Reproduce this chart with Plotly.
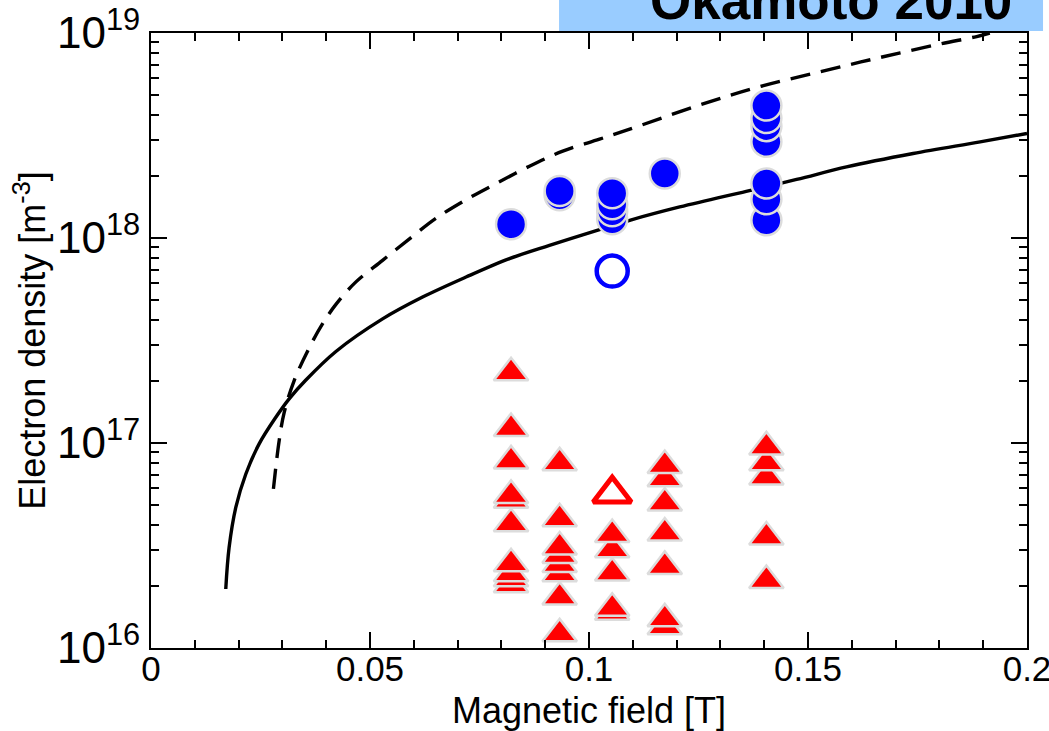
import plotly.graph_objects as go

# ---- data ----
solid_B = [0.01707, 0.01783, 0.01936, 0.02165, 0.02469, 0.0285, 0.03154, 0.03536, 0.04222,
           0.05287, 0.06201, 0.07193, 0.08183, 0.09097, 0.1024, 0.1093, 0.1207, 0.1359,
           0.1474, 0.1588, 0.174, 0.1893, 0.2]
solid_n = [1.94e16, 3.09e16, 4.85e16, 7.06e16, 9.9e16, 1.335e17, 1.642e17, 2.029e17, 2.796e17,
           4.03e17, 5.15e17, 6.45e17, 7.93e17, 9.21e17, 1.099e18, 1.22e18, 1.417e18, 1.69e18,
           1.93e18, 2.223e18, 2.584e18, 2.944e18, 3.236e18]

dashed_B = [0.02795, 0.02926, 0.0304, 0.03269, 0.03611, 0.03915, 0.04222, 0.04679, 0.05287,
            0.05973, 0.06507, 0.07193, 0.07879, 0.0864, 0.09401, 0.1024, 0.1093, 0.1245,
            0.1382, 0.1527, 0.1664, 0.1801, 0.1885, 0.1915]
dashed_n = [5.97e16, 1.027e17, 1.408e17, 2.017e17, 2.908e17, 3.81e17, 4.745e17, 6.11e17, 7.78e17,
            1.019e18, 1.248e18, 1.537e18, 1.844e18, 2.24e18, 2.652e18, 3.035e18, 3.396e18,
            4.4e18, 5.416e18, 6.47e18, 7.59e18, 8.84e18, 9.61e18, 1.0e19]

circle_B = [0.0822, 0.0933, 0.0933, 0.1053, 0.1053, 0.1053, 0.1053, 0.1173,
            0.1405, 0.1405, 0.1405, 0.1405, 0.1405, 0.1405, 0.1405]
circle_n = [1.167e18, 1.617e18, 1.697e18, 1.234e18, 1.35e18, 1.461e18, 1.654e18, 2.064e18,
            1.22e18, 1.545e18, 1.844e18, 2.944e18, 3.513e18, 3.844e18, 4.424e18]

open_circle_B = [0.1053]
open_circle_n = [6.9e17]

tri_B = ([0.0822] * 10 + [0.0933] * 8 + [0.1053] * 5 + [0.1173] * 7 + [0.1405] * 5)
tri_n = [2.033e16, 2.176e16, 2.30e16, 2.575e16, 4.04e16, 5.25e16, 5.55e16, 8.18e16, 1.176e17, 2.2e17,
         1.172e16, 1.771e16, 2.30e16, 2.555e16, 2.83e16, 3.11e16, 4.27e16, 8.0e16,
         1.496e16, 1.564e16, 2.32e16, 3.015e16, 3.58e16,
         1.268e16, 1.387e16, 2.50e16, 3.64e16, 5.10e16, 6.70e16, 7.76e16,
         2.135e16, 3.48e16, 6.83e16, 8.0e16, 9.57e16]

open_tri_B = [0.1053]
open_tri_n = [5.66e16]

x_ticks = [0, 0.05, 0.1, 0.15, 0.2]
x_ticktext = ["0", "0.05", "0.1", "0.15", "0.2"]
y_ticks = [1e16, 1e17, 1e18, 1e19]
y_ticktext = ["10<sup>16</sup>", "10<sup>17</sup>", "10<sup>18</sup>", "10<sup>19</sup>"]

title_text = "Okamoto 2010"

FONT = "Liberation Sans, Arial, Helvetica, sans-serif"
GRAY = "#dcdcdc"

fig = go.Figure()
fig.add_trace(go.Scatter(x=solid_B, y=solid_n, mode="lines",
                         line=dict(color="black", width=3.4, shape="spline", smoothing=1.0),
                         hoverinfo="skip"))
fig.add_trace(go.Scatter(x=dashed_B, y=dashed_n, mode="lines",
                         line=dict(color="black", width=3.4, dash="20px,11px", shape="spline", smoothing=1.0),
                         hoverinfo="skip"))
fig.add_trace(go.Scatter(x=circle_B, y=circle_n, mode="markers",
                         marker=dict(symbol="circle", size=30, color="#0000ff", line=dict(color=GRAY, width=2.5))))
fig.add_trace(go.Scatter(x=open_circle_B, y=open_circle_n, mode="markers",
                         marker=dict(symbol="circle-open", size=31, color="#0000ff", line=dict(color="#0000ff", width=4.5))))
fig.add_trace(go.Scatter(x=tri_B, y=tri_n, mode="markers",
                         marker=dict(symbol="triangle-up", size=30, color="#ff0000", line=dict(color=GRAY, width=2.5))))
fig.add_trace(go.Scatter(x=open_tri_B, y=open_tri_n, mode="markers",
                         marker=dict(symbol="triangle-up-open", size=33, color="#ff0000", line=dict(color="#ff0000", width=5))))

axis_common = dict(showline=True, linecolor="black", linewidth=2, mirror="ticks", ticks="inside",
                   tickcolor="black", tickwidth=2, ticklen=16, showgrid=False, zeroline=False,
                   automargin=False, ticklabeloverflow="allow")

fig.update_layout(
    width=1049, height=731,
    margin=dict(l=151, r=22, t=33, b=83),
    paper_bgcolor="white", plot_bgcolor="white",
    showlegend=False,
    font=dict(family=FONT, color="black"),
    xaxis=dict(range=[0, 0.2], tickvals=x_ticks, ticktext=x_ticktext,
               tickfont=dict(size=35, family=FONT), ticklabelstandoff=-11,
               title=dict(text="Magnetic field [T]", font=dict(size=36, family=FONT), standoff=15),
               minor=dict(ticks="inside", ticklen=8, tickwidth=2, tickcolor="black", dtick=0.01, showgrid=False),
               **axis_common),
    yaxis=dict(type="log", range=[16, 19], tickvals=y_ticks, ticktext=y_ticktext,
               tickfont=dict(size=44, family=FONT),
               title=dict(text="Electron density [m<sup>-3</sup>]", font=dict(size=36, family=FONT), standoff=0),
               minor=dict(ticks="inside", ticklen=8, tickwidth=2, tickcolor="black", dtick="D1", showgrid=False),
               **axis_common),
)

fig.add_shape(type="rect", xref="paper", yref="paper", x0=0.4658, x1=1.0183, y0=1.0033, y1=1.06,
              fillcolor="#99ccff", line=dict(width=0), layer="above")
fig.add_annotation(text="<b>" + title_text + "</b>", xref="paper", yref="paper", x=0.776, y=1.0016,
                   xanchor="center", yanchor="bottom", showarrow=False,
                   font=dict(size=53, family=FONT, color="black"))

fig.write_html("out.html")
